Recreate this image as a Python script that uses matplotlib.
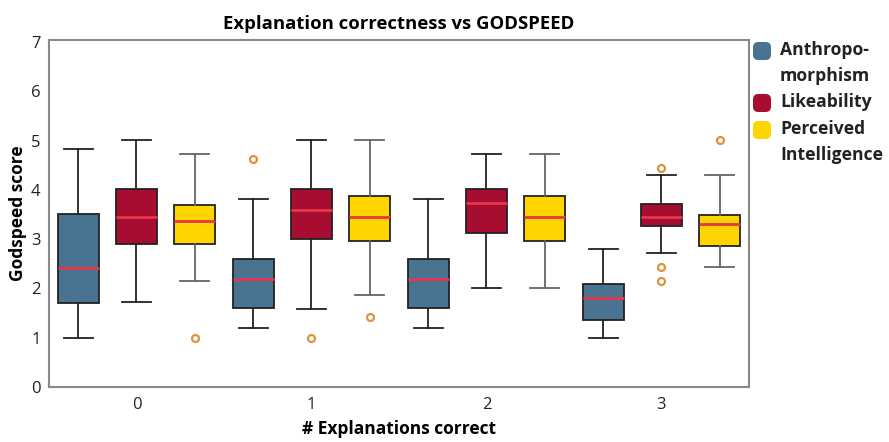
import matplotlib
matplotlib.use("Agg")
import matplotlib.pyplot as plt
from matplotlib.patches import FancyBboxPatch

plt.rcParams['font.family'] = ['Open Sans', 'DejaVu Sans']

groups = ["0", "1", "2", "3"]
series = ["Anthropo-\nmorphism", "Likeability", "Perceived\nIntelligence"]
colors = ["#4a7391", "#a60d30", "#ffd500"]

# per group, per series: (whislo, q1, med, q3, whishi, outliers)
anthro = [(1.00, 1.70, 2.41, 3.52, 4.83, []),
          (1.20, 1.60, 2.20, 2.60, 3.81, [4.62]),
          (1.20, 1.60, 2.20, 2.60, 3.81, []),
          (1.00, 1.35, 1.80, 2.10, 2.81, [])]
likeab = [(1.72, 2.91, 3.44, 4.01, 5.02, []),
          (1.58, 3.01, 3.59, 4.01, 5.02, [1.00]),
          (2.01, 3.12, 3.73, 4.01, 4.73, []),
          (2.72, 3.26, 3.44, 3.72, 4.30, [4.45, 2.43, 2.15])]
percint = [(2.15, 2.91, 3.37, 3.70, 4.73, [1.00]),
           (1.86, 2.97, 3.44, 3.87, 5.02, [1.43]),
           (2.01, 2.97, 3.44, 3.87, 4.73, []),
           (2.43, 2.87, 3.30, 3.48, 4.30, [5.02])]

fig = plt.figure(figsize=(8.89, 4.42), dpi=100)
ax = fig.add_axes([0.0551, 0.1244, 0.7874, 0.7851])

all_series = [anthro, likeab, percint]
for s, (data, col) in enumerate(zip(all_series, colors)):
    stats = []
    pos = []
    for g, (lo, q1, med, q3, hi, fl) in enumerate(data):
        stats.append(dict(whislo=lo, q1=q1, med=med, q3=q3, whishi=hi, fliers=fl))
        pos.append(g * 3 + s + 1)
    wcol = "#666666" if s == 2 else "#222222"
    ax.bxp(stats, positions=pos, widths=0.7, patch_artist=True, manage_ticks=False,
           boxprops=dict(facecolor=col, edgecolor="#222222", linewidth=1.3),
           medianprops=dict(color="#e8354a", linewidth=2),
           whiskerprops=dict(color=wcol, linewidth=1.3),
           capprops=dict(color=wcol, linewidth=1.3),
           capwidths=0.5,
           flierprops=dict(marker="o", markerfacecolor="none", markeredgecolor="#e0923a",
                           markersize=5, markeredgewidth=1.6))

ax.set_xlim(0.5, 12.5)
ax.set_ylim(0, 7.04)
ax.set_yticks(range(0, 8))
ax.set_xticks([2, 5, 8, 11])
ax.set_xticklabels(groups)
ax.tick_params(length=0, labelsize=12, colors="#222222")
ax.tick_params(axis="y", pad=6)
ax.tick_params(axis="x", pad=7)
for sp in ax.spines.values():
    sp.set_color("#8a8a8a")
    sp.set_linewidth(1.5)

ax.set_title("Explanation correctness vs GODSPEED", fontsize=13.3, fontweight="bold", pad=8)
ax.set_ylabel("Godspeed score", fontsize=12.5, fontweight="bold", labelpad=3)
ax.set_xlabel("# Explanations correct", fontsize=12.5, fontweight="bold", labelpad=5)

# legend, swatch aligned with first text line
leg_y = [51, 103, 130]
for name, col, yy in zip(series, colors, leg_y):
    yf = 1 - yy / 442
    fig.patches.append(FancyBboxPatch((753 / 889, yf - 9 / 442), 18 / 889, 18 / 442,
                                      boxstyle="round,pad=0,rounding_size=0.006",
                                      transform=fig.transFigure, facecolor=col,
                                      edgecolor="none", mutation_aspect=2.0))
    fig.text(780 / 889, yf + 10 / 442, name, fontsize=12.6, fontweight="bold",
             va="top", ha="left", color="#222222", linespacing=1.6)

fig.savefig("out.png", dpi=100)
